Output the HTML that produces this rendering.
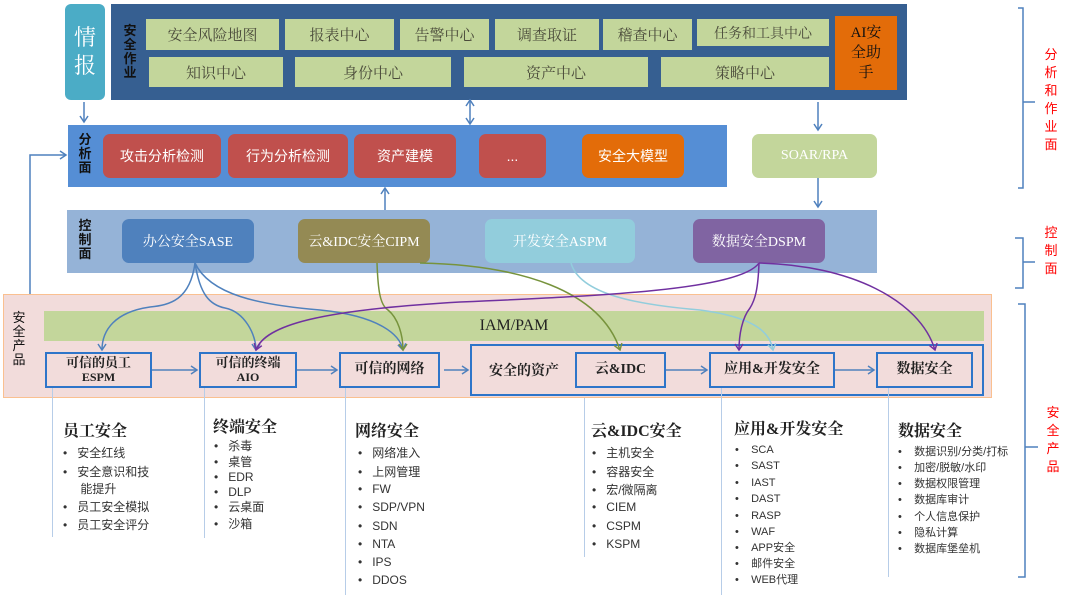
<!DOCTYPE html>
<html><head><meta charset="utf-8"><style>
body{margin:0;width:1080px;height:596px;position:relative;background:#fff;overflow:hidden;font-family:"Liberation Serif","Noto Serif CJK SC",serif;}
.a{position:absolute;box-sizing:border-box;display:flex;align-items:center;justify-content:center;text-align:center;}
.g{background:#c3d69b;color:#4a4a3a;font-size:15px;}
.r{background:#c0504d;color:#fff;border-radius:7px;font-size:14px;font-family:"Liberation Sans","Noto Sans CJK SC",sans-serif;}
.c{border-radius:7px;color:#fff;font-size:14px;}
.v{position:absolute;font-size:13px;font-weight:bold;line-height:14px;width:16px;text-align:center;color:#111;font-family:"Liberation Sans","Noto Sans CJK SC",sans-serif;}
.p{border:2px solid #2e75c9;font-weight:bold;font-size:14px;color:#222;line-height:16px;flex-direction:column;}
.t{position:absolute;font-size:12px;line-height:16px;color:#333;white-space:nowrap;font-family:"Liberation Sans","Noto Sans CJK SC",sans-serif;}
.h{position:absolute;font-size:16px;line-height:20px;color:#222;white-space:nowrap;font-weight:bold;}
.l{position:absolute;width:1px;background:#b7cde8;}
.rt{position:absolute;color:#ff0000;font-size:13px;line-height:18px;width:16px;text-align:center;font-family:"Liberation Sans","Noto Sans CJK SC",sans-serif;}
</style></head><body>
<div class="a" style="left:65px;top:4px;width:40px;height:96px;background:#4bacc6;border-radius:6px;color:#fff;font-size:22px;line-height:28px;">情<br>报</div>
<div class="a" style="left:111px;top:4px;width:796px;height:96px;background:#365f91;"></div>
<div class="v" style="left:122px;top:24px;">安全作业</div>
<div class="a g" style="left:146px;top:19px;width:133px;height:31px;">安全风险地图</div>
<div class="a g" style="left:285px;top:19px;width:109px;height:31px;">报表中心</div>
<div class="a g" style="left:400px;top:19px;width:89px;height:31px;">告警中心</div>
<div class="a g" style="left:495px;top:19px;width:104px;height:31px;">调查取证</div>
<div class="a g" style="left:603px;top:19px;width:89px;height:31px;">稽查中心</div>
<div class="a g" style="left:697px;top:19px;width:132px;height:27px;font-size:14px;">任务和工具中心</div>
<div class="a g" style="left:149px;top:57px;width:134px;height:30px;">知识中心</div>
<div class="a g" style="left:295px;top:57px;width:156px;height:30px;">身份中心</div>
<div class="a g" style="left:464px;top:57px;width:184px;height:30px;">资产中心</div>
<div class="a g" style="left:661px;top:57px;width:168px;height:30px;">策略中心</div>
<div class="a" style="left:835px;top:16px;width:62px;height:74px;background:#e36c09;color:#111;font-size:15px;line-height:20px;">AI安<br>全助<br>手</div>
<div class="a" style="left:68px;top:125px;width:659px;height:62px;background:#558ed5;"></div>
<div class="v" style="left:77px;top:133px;">分析面</div>
<div class="a r" style="left:103px;top:134px;width:118px;height:44px;">攻击分析检测</div>
<div class="a r" style="left:228px;top:134px;width:120px;height:44px;">行为分析检测</div>
<div class="a r" style="left:354px;top:134px;width:102px;height:44px;">资产建模</div>
<div class="a r" style="left:479px;top:134px;width:67px;height:44px;">...</div>
<div class="a r" style="left:582px;top:134px;width:102px;height:44px;background:#e36c09;">安全大模型</div>
<div class="a c" style="left:752px;top:134px;width:125px;height:44px;background:#c3d69b;">SOAR/RPA</div>
<div class="a" style="left:67px;top:210px;width:810px;height:63px;background:#95b3d7;"></div>
<div class="v" style="left:77px;top:219px;">控制面</div>
<div class="a c" style="left:122px;top:219px;width:132px;height:44px;background:#4f81bd;">办公安全SASE</div>
<div class="a c" style="left:298px;top:219px;width:132px;height:44px;background:#948a54;">云&amp;IDC安全CIPM</div>
<div class="a c" style="left:485px;top:219px;width:150px;height:44px;background:#92cddc;">开发安全ASPM</div>
<div class="a c" style="left:693px;top:219px;width:132px;height:44px;background:#8064a2;">数据安全DSPM</div>
<div class="a" style="left:3px;top:294px;width:989px;height:104px;background:#f2dcdb;border:1px solid #fac090;"></div>
<div class="v" style="left:11px;top:311px;font-weight:normal;">安全产品</div>
<div class="a g" style="left:44px;top:311px;width:940px;height:30px;color:#222;font-size:16px;">IAM/PAM</div>
<div class="a p" style="left:470px;top:344px;width:514px;height:52px;"></div>
<div class="a p" style="left:45px;top:352px;width:107px;height:36px;font-size:13px;line-height:15px;">可信的员工<span style="font-size:12px">ESPM</span></div>
<div class="a p" style="left:199px;top:352px;width:98px;height:36px;font-size:13px;line-height:15px;">可信的终端<span style="font-size:12px">AIO</span></div>
<div class="a p" style="left:339px;top:352px;width:101px;height:36px;">可信的网络</div>
<div class="a" style="left:474px;top:352px;width:100px;height:36px;font-weight:bold;font-size:14px;color:#222;">安全的资产</div>
<div class="a p" style="left:575px;top:352px;width:91px;height:36px;">云&amp;IDC</div>
<div class="a p" style="left:709px;top:352px;width:126px;height:36px;">应用&amp;开发安全</div>
<div class="a p" style="left:876px;top:352px;width:97px;height:36px;">数据安全</div>
<div class="l" style="left:52px;top:388px;height:149px"></div>
<div class="l" style="left:204px;top:388px;height:150px"></div>
<div class="l" style="left:345px;top:388px;height:207px"></div>
<div class="l" style="left:584px;top:398px;height:159px"></div>
<div class="l" style="left:721px;top:388px;height:207px"></div>
<div class="l" style="left:888px;top:388px;height:189px"></div>
<div class="h" style="left:63px;top:422px;">员工安全</div>
<div class="t" style="left:63px;top:445px;">•&nbsp;&nbsp;&nbsp;安全红线</div>
<div class="t" style="left:63px;top:464px;">•&nbsp;&nbsp;&nbsp;安全意识和技</div>
<div class="t" style="left:77px;top:481px;">&nbsp;能提升</div>
<div class="t" style="left:63px;top:499px;">•&nbsp;&nbsp;&nbsp;员工安全模拟</div>
<div class="t" style="left:63px;top:517px;">•&nbsp;&nbsp;&nbsp;员工安全评分</div>
<div class="h" style="left:213px;top:418px;">终端安全</div>
<div class="t" style="left:214px;top:438px;">•&nbsp;&nbsp;&nbsp;杀毒</div>
<div class="t" style="left:214px;top:454px;">•&nbsp;&nbsp;&nbsp;桌管</div>
<div class="t" style="left:214px;top:469px;">•&nbsp;&nbsp;&nbsp;EDR</div>
<div class="t" style="left:214px;top:484px;">•&nbsp;&nbsp;&nbsp;DLP</div>
<div class="t" style="left:214px;top:499px;">•&nbsp;&nbsp;&nbsp;云桌面</div>
<div class="t" style="left:214px;top:516px;">•&nbsp;&nbsp;&nbsp;沙箱</div>
<div class="h" style="left:355px;top:422px;">网络安全</div>
<div class="t" style="left:358px;top:445px;">•&nbsp;&nbsp;&nbsp;网络准入</div>
<div class="t" style="left:358px;top:464px;">•&nbsp;&nbsp;&nbsp;上网管理</div>
<div class="t" style="left:358px;top:481px;">•&nbsp;&nbsp;&nbsp;FW</div>
<div class="t" style="left:358px;top:499px;">•&nbsp;&nbsp;&nbsp;SDP/VPN</div>
<div class="t" style="left:358px;top:518px;">•&nbsp;&nbsp;&nbsp;SDN</div>
<div class="t" style="left:358px;top:536px;">•&nbsp;&nbsp;&nbsp;NTA</div>
<div class="t" style="left:358px;top:554px;">•&nbsp;&nbsp;&nbsp;IPS</div>
<div class="t" style="left:358px;top:572px;">•&nbsp;&nbsp;&nbsp;DDOS</div>
<div class="h" style="left:591px;top:422px;">云&amp;IDC安全</div>
<div class="t" style="left:592px;top:445px;">•&nbsp;&nbsp;&nbsp;主机安全</div>
<div class="t" style="left:592px;top:464px;">•&nbsp;&nbsp;&nbsp;容器安全</div>
<div class="t" style="left:592px;top:482px;">•&nbsp;&nbsp;&nbsp;宏/微隔离</div>
<div class="t" style="left:592px;top:499px;">•&nbsp;&nbsp;&nbsp;CIEM</div>
<div class="t" style="left:592px;top:518px;">•&nbsp;&nbsp;&nbsp;CSPM</div>
<div class="t" style="left:592px;top:536px;">•&nbsp;&nbsp;&nbsp;KSPM</div>
<div class="h" style="left:734px;top:420px;">应用&amp;开发安全</div>
<div class="t" style="left:735px;top:442px;font-size:11px;">•&nbsp;&nbsp;&nbsp;&nbsp;SCA</div>
<div class="t" style="left:735px;top:458px;font-size:11px;">•&nbsp;&nbsp;&nbsp;&nbsp;SAST</div>
<div class="t" style="left:735px;top:475px;font-size:11px;">•&nbsp;&nbsp;&nbsp;&nbsp;IAST</div>
<div class="t" style="left:735px;top:491px;font-size:11px;">•&nbsp;&nbsp;&nbsp;&nbsp;DAST</div>
<div class="t" style="left:735px;top:508px;font-size:11px;">•&nbsp;&nbsp;&nbsp;&nbsp;RASP</div>
<div class="t" style="left:735px;top:524px;font-size:11px;">•&nbsp;&nbsp;&nbsp;&nbsp;WAF</div>
<div class="t" style="left:735px;top:540px;font-size:11px;">•&nbsp;&nbsp;&nbsp;&nbsp;APP安全</div>
<div class="t" style="left:735px;top:556px;font-size:11px;">•&nbsp;&nbsp;&nbsp;&nbsp;邮件安全</div>
<div class="t" style="left:735px;top:572px;font-size:11px;">•&nbsp;&nbsp;&nbsp;&nbsp;WEB代理</div>
<div class="h" style="left:898px;top:422px;">数据安全</div>
<div class="t" style="left:898px;top:444px;font-size:11px;">•&nbsp;&nbsp;&nbsp;&nbsp;数据识别/分类/打标</div>
<div class="t" style="left:898px;top:460px;font-size:11px;">•&nbsp;&nbsp;&nbsp;&nbsp;加密/脱敏/水印</div>
<div class="t" style="left:898px;top:476px;font-size:11px;">•&nbsp;&nbsp;&nbsp;&nbsp;数据权限管理</div>
<div class="t" style="left:898px;top:492px;font-size:11px;">•&nbsp;&nbsp;&nbsp;&nbsp;数据库审计</div>
<div class="t" style="left:898px;top:509px;font-size:11px;">•&nbsp;&nbsp;&nbsp;&nbsp;个人信息保护</div>
<div class="t" style="left:898px;top:525px;font-size:11px;">•&nbsp;&nbsp;&nbsp;&nbsp;隐私计算</div>
<div class="t" style="left:898px;top:541px;font-size:11px;">•&nbsp;&nbsp;&nbsp;&nbsp;数据库堡垒机</div>
<div class="rt" style="left:1043px;top:46px;">分析和作业面</div>
<div class="rt" style="left:1043px;top:224px;">控制面</div>
<div class="rt" style="left:1045px;top:404px;">安全产品</div>
<svg width="1080" height="596" style="position:absolute;left:0;top:0" fill="none">
<defs>
<marker id="mb" markerWidth="10" markerHeight="10" refX="7" refY="5" orient="auto-start-reverse" markerUnits="userSpaceOnUse"><path d="M1 1 L7 5 L1 9" stroke="#4f81bd" stroke-width="1.5" fill="none"/></marker>
<marker id="mg" markerWidth="10" markerHeight="10" refX="7" refY="5" orient="auto" markerUnits="userSpaceOnUse"><path d="M1 1 L7 5 L1 9" stroke="#77933c" stroke-width="1.5" fill="none"/></marker>
<marker id="mp" markerWidth="10" markerHeight="10" refX="7" refY="5" orient="auto" markerUnits="userSpaceOnUse"><path d="M1 1 L7 5 L1 9" stroke="#7030a0" stroke-width="1.5" fill="none"/></marker>
<marker id="ml" markerWidth="10" markerHeight="10" refX="7" refY="5" orient="auto" markerUnits="userSpaceOnUse"><path d="M1 1 L7 5 L1 9" stroke="#92cddc" stroke-width="1.5" fill="none"/></marker>
</defs>
<g stroke="#4f81bd" stroke-width="1.5">
<path d="M84 102 V122" marker-end="url(#mb)"/>
<path d="M470 100 V124" marker-end="url(#mb)" marker-start="url(#mb)"/>
<path d="M818 102 V130" marker-end="url(#mb)"/>
<path d="M818 178 V207" marker-end="url(#mb)"/>
<path d="M385 210 V188" marker-end="url(#mb)"/>
<path d="M30 294 V155 H66" marker-end="url(#mb)"/>
<path d="M152 370 H197" marker-end="url(#mb)"/>
<path d="M297 370 H337" marker-end="url(#mb)"/>
<path d="M444 370 H468" marker-end="url(#mb)"/>
<path d="M666 370 H707" marker-end="url(#mb)"/>
<path d="M835 370 H874" marker-end="url(#mb)"/>
<path d="M195 263 C190 300 170 305 150 307 C115 312 102 330 102 350" marker-end="url(#mb)"/>
<path d="M195 263 C200 295 210 305 225 308 C245 312 256 335 256 350" marker-end="url(#mb)"/>
<path d="M195 263 C210 295 260 305 320 310 C380 316 400 335 403 350" marker-end="url(#mb)"/>
</g>
<g stroke="#77933c" stroke-width="1.5">
<path d="M377 263 C378 290 380 305 388 310 C398 318 403 335 403 350" marker-end="url(#mg)"/>
<path d="M420 263 C520 265 600 290 620 350" marker-end="url(#mg)"/>
</g>
<path d="M571 263 C580 295 640 305 700 310 C760 318 770 335 773 350" stroke="#92cddc" stroke-width="1.5" marker-end="url(#ml)"/>
<g stroke="#7030a0" stroke-width="1.5">
<path d="M759 263 C740 290 600 296 460 302 C320 310 265 325 256 350" marker-end="url(#mp)"/>
<path d="M759 263 C758 290 755 300 750 308 C742 318 739 335 739 350" marker-end="url(#mp)"/>
<path d="M759 263 C850 265 920 300 935 350" marker-end="url(#mp)"/>
</g>
<g stroke="#4f81bd" stroke-width="1.5">
<path d="M1018 8 H1023 V188 H1018 M1023 102 H1035"/>
<path d="M1015 238 H1023 V288 H1015 M1023 262 H1035"/>
<path d="M1018 304 H1025 V577 H1018 M1025 447 H1038"/>
</g>
</svg>
</body></html>
